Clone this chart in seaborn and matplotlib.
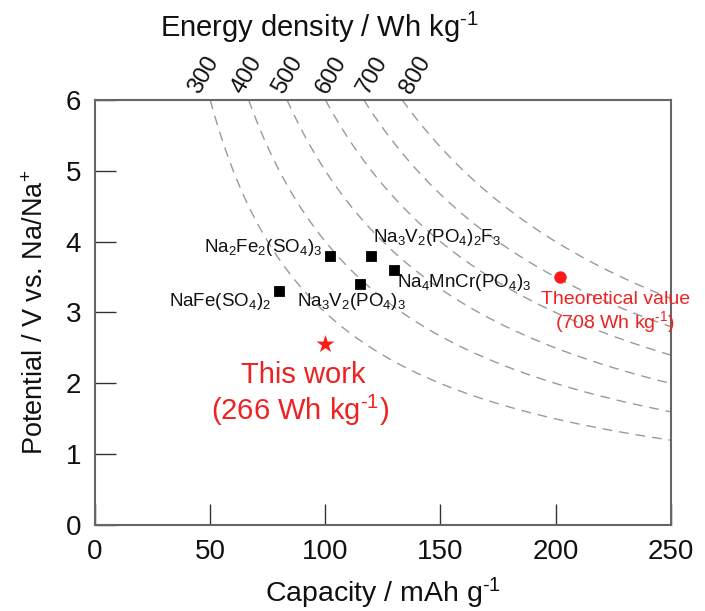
import numpy as np
import pandas as pd
import matplotlib
matplotlib.use("Agg")
import matplotlib.pyplot as plt
import seaborn as sns

# Reported cathode materials: capacity (mAh/g) and average potential (V vs Na/Na+)
materials = [r"Na$_2$Fe$_2$(SO$_4$)$_3$", r"Na$_3$V$_2$(PO$_4$)$_2$F$_3$",
             r"Na$_4$MnCr(PO$_4$)$_3$", r"Na$_3$V$_2$(PO$_4$)$_3$",
             r"NaFe(SO$_4$)$_2$"]
mat_capacity = [102, 120, 130, 115, 80]
mat_potential = [3.8, 3.8, 3.6, 3.4, 3.3]

# This work and theoretical value
work_capacity = [100]
work_potential = [2.55]
theo_capacity = [202]
theo_potential = [3.5]

# Iso-energy-density contours (Wh/kg)
energy_levels = [300, 400, 500, 600, 700, 800]

sns.set_theme(style="white")
FAM = ["Liberation Sans", "DejaVu Sans"]
plt.rcParams["font.family"] = FAM
plt.rcParams["mathtext.fontset"] = "custom"
plt.rcParams["mathtext.rm"] = "Liberation Sans"
plt.rcParams["mathtext.it"] = "Liberation Sans:italic"
plt.rcParams["mathtext.bf"] = "Liberation Sans:bold"

SUP = r"$^{\text{-1}}$"

fig = plt.figure(figsize=(7.05, 6.11), dpi=100)
ax = fig.add_axes([0.1348, 0.1403, 0.8165, 0.6965])

XMAX, YMAX = 250, 6

# Dashed contour curves V = E / C
rows = []
for e in energy_levels:
    cap = np.linspace(e / YMAX, XMAX, 200)
    rows.append(pd.DataFrame({"capacity": cap, "potential": e / cap, "energy": e}))
curves = pd.concat(rows, ignore_index=True)
sns.lineplot(data=curves, x="capacity", y="potential", units="energy",
             estimator=None, color="#9a9a9a", linewidth=1.0,
             dashes=False, ax=ax, legend=False, sort=False)
for line in ax.lines:
    line.set_dashes([7, 5])

mats = pd.DataFrame({"capacity": mat_capacity, "potential": mat_potential})
sns.scatterplot(data=mats, x="capacity", y="potential", marker="s", s=55,
                color="black", edgecolor="black", ax=ax, zorder=5)
sns.scatterplot(x=work_capacity, y=work_potential, marker="*", s=185,
                color="#ff1a1a", edgecolor="#ff1a1a", linewidth=0, ax=ax, zorder=5)
sns.scatterplot(x=theo_capacity, y=theo_potential, marker="o", s=80,
                color="#ff1a1a", edgecolor="#ff1a1a", linewidth=0, ax=ax, zorder=5)

# Material labels
fs = 13.5
label_pos = [
    (98.6, 3.92, "right"),
    (120.7, 4.06, "left"),
    (131.0, 3.42, "left"),
    (87.6, 3.16, "left"),
    (76.5, 3.16, "right"),
]
for name, (lx, ly, ha) in zip(materials, label_pos):
    ax.text(lx, ly, name, ha=ha, va="center", fontsize=fs, color="#111111")

red = "#ee2222"
ax.text(90.3, 2.01, "This work", ha="center", va="baseline", fontsize=21, color=red)
ax.text(89.0, 1.49, "(266 Wh kg" + SUP + ")", ha="center", va="baseline",
        fontsize=21, color=red)
ax.text(226.0, 3.12, "Theoretical value", ha="center", va="baseline",
        fontsize=14, color=red)
ax.text(226.0, 2.78, "(708 Wh kg" + SUP + ")", ha="center", va="baseline",
        fontsize=14, color=red)

# Energy density labels along the top edge
energy_label_x = [47.3, 65.9, 83.8, 102.5, 120.5, 139.3]
for e, lx in zip(energy_levels, energy_label_x):
    ax.text(lx, YMAX + 0.35, str(e), rotation=60, ha="center",
            va="center", fontsize=17, color="#111111")
fig.text(0.453, 0.940, "Energy density / Wh kg" + SUP, ha="center",
         va="baseline", fontsize=21, color="#111111")

ax.set_xlim(0, XMAX)
ax.set_ylim(0, YMAX)
ax.set_xticks([0, 50, 100, 150, 200, 250])
ax.set_yticks([0, 1, 2, 3, 4, 5, 6])
ax.tick_params(axis="both", which="major", direction="in", length=15, width=1.0,
               color="#333333", labelsize=20, labelcolor="#111111", pad=10,
               bottom=True, left=True, top=False, right=False)
ax.set_xlabel("Capacity / mAh g" + SUP, fontsize=20.5, color="#111111", labelpad=8)
ax.set_ylabel("Potential / V vs. Na/Na$^{+}$", fontsize=19.5, color="#111111",
              labelpad=12)
for sp in ax.spines.values():
    sp.set_color("#666666")
    sp.set_linewidth(1.5)
    sp.set_visible(True)

fig.savefig("out.png", dpi=100)
